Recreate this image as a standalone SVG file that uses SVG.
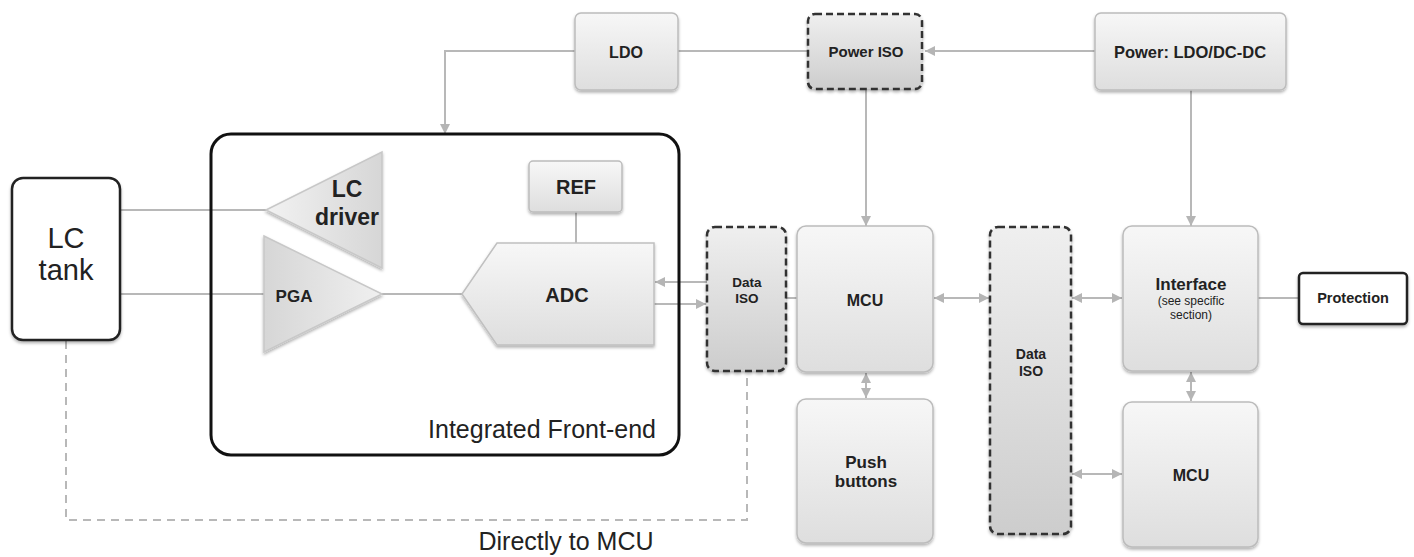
<svg xmlns="http://www.w3.org/2000/svg" width="1414" height="557" viewBox="0 0 1414 557">
<style>
.box{stroke:#bcbcbc;stroke-width:1.5;fill:url(#gBox);filter:url(#sh)}
.iso{stroke:#333;stroke-width:2.5;stroke-dasharray:7 4;fill:url(#gIso);filter:url(#sh)}
.wbox{stroke:#222;stroke-width:2.5;fill:#fff;filter:url(#sh)}
.con{stroke:#b8b8b8;stroke-width:2;fill:none}
.dash{stroke:#b8b8b8;stroke-width:2;fill:none;stroke-dasharray:8 6}
.t{font-family:"Liberation Sans",Arial,sans-serif;font-weight:bold;fill:#222;text-anchor:middle}
.r{font-family:"Liberation Sans",Arial,sans-serif;fill:#222;text-anchor:middle}
</style>
<defs>
<linearGradient id="gBox" x1="0" y1="0" x2="0" y2="1"><stop offset="0" stop-color="#f7f7f7"/><stop offset="1" stop-color="#dedede"/></linearGradient>
<linearGradient id="gIso" x1="0" y1="0" x2="0" y2="1"><stop offset="0" stop-color="#efefef"/><stop offset="1" stop-color="#cdcdcd"/></linearGradient>
<linearGradient id="gTriL" x1="0" y1="0" x2="1" y2="0"><stop offset="0" stop-color="#f2f2f2"/><stop offset="1" stop-color="#d6d6d6"/></linearGradient>
<linearGradient id="gTriR" x1="0" y1="0" x2="1" y2="0"><stop offset="0" stop-color="#d6d6d6"/><stop offset="1" stop-color="#f0f0f0"/></linearGradient>
<filter id="sh" x="-10%" y="-10%" width="120%" height="130%"><feDropShadow dx="0" dy="2" stdDeviation="1.5" flood-color="#000" flood-opacity="0.3"/></filter>
<marker id="ah" viewBox="0 0 10 10" refX="10" refY="5" markerWidth="10" markerHeight="10" markerUnits="userSpaceOnUse" orient="auto-start-reverse"><path d="M0,0 L10,5 L0,10 Z" fill="#b5b5b5"/></marker>
</defs>

<g id="connectors">
<polyline class="con" points="575,51 445,51 445,134" marker-end="url(#ah)"/>
<line class="con" x1="678" y1="51" x2="807" y2="51"/>
<line class="con" x1="1095" y1="51" x2="925" y2="51" marker-end="url(#ah)"/>
<line class="con" x1="866" y1="90" x2="866" y2="226" marker-end="url(#ah)"/>
<line class="con" x1="1191" y1="90" x2="1191" y2="226" marker-end="url(#ah)"/>
<line class="con" x1="120" y1="210" x2="266" y2="210"/>
<line class="con" x1="120" y1="294" x2="264" y2="294"/>
<line class="con" x1="382" y1="294" x2="462" y2="294"/>
<line class="con" x1="576" y1="212" x2="576" y2="243"/>
<line class="con" x1="707" y1="282" x2="655" y2="282" marker-end="url(#ah)"/>
<line class="con" x1="654" y1="304" x2="706" y2="304" marker-end="url(#ah)"/>
<line class="con" x1="786" y1="298" x2="797" y2="298"/>
<line class="con" x1="866" y1="373" x2="866" y2="398" marker-start="url(#ah)" marker-end="url(#ah)"/>
<line class="con" x1="934" y1="298" x2="989" y2="298" marker-start="url(#ah)" marker-end="url(#ah)"/>
<line class="con" x1="1072" y1="298" x2="1122" y2="298" marker-start="url(#ah)" marker-end="url(#ah)"/>
<line class="con" x1="1072" y1="474" x2="1122" y2="474" marker-start="url(#ah)" marker-end="url(#ah)"/>
<line class="con" x1="1191" y1="372" x2="1191" y2="401" marker-start="url(#ah)" marker-end="url(#ah)"/>
<line class="con" x1="1258" y1="298" x2="1299" y2="298"/>
<polyline class="dash" points="66,341 66,520 747,520 747,372"/>
</g>

<g id="lc-tank"><rect class="wbox" x="12" y="178" width="108" height="162" rx="11"/>
<text class="r" x="66" y="248" font-size="29">LC</text><text class="r" x="66" y="280" font-size="29">tank</text></g>

<g id="front-end"><rect x="211" y="134" width="468" height="321" rx="20" fill="none" stroke="#111" stroke-width="3"/>
<text class="r" x="542" y="438" font-size="25">Integrated Front-end</text></g>

<g id="lc-driver"><polygon points="266,210 382,152 382,268" fill="url(#gTriL)" stroke="#c8c8c8" stroke-width="1.5" filter="url(#sh)"/>
<text class="t" x="347" y="197" font-size="23">LC</text><text class="t" x="347" y="225" font-size="23">driver</text></g>

<g id="pga"><polygon points="264,236 382,294 264,352" fill="url(#gTriR)" stroke="#c8c8c8" stroke-width="1.5" filter="url(#sh)"/>
<text class="t" x="294" y="302" font-size="17">PGA</text></g>

<g id="ref"><rect class="box" x="529" y="161" width="93" height="51" rx="4"/><text class="t" x="576" y="194" font-size="20">REF</text></g>

<g id="adc"><polygon points="497,243 654,243 654,345 497,345 462,294" fill="url(#gBox)" stroke="#c0c0c0" stroke-width="1.5" filter="url(#sh)"/>
<text class="t" x="567" y="302" font-size="20">ADC</text></g>

<g id="ldo"><rect class="box" x="575" y="13" width="103" height="77" rx="6"/><text class="t" x="626" y="58" font-size="16">LDO</text></g>

<g id="power-iso"><rect class="iso" x="808" y="14" width="114" height="75" rx="7"/><text class="t" x="866" y="57" font-size="15">Power ISO</text></g>

<g id="power"><rect class="box" x="1095" y="13" width="191" height="77" rx="6"/><text class="t" x="1190" y="58" font-size="16.5">Power: LDO/DC-DC</text></g>

<g id="data-iso-1"><rect class="iso" x="707" y="227" width="79" height="144" rx="8"/>
<text class="t" x="747" y="287" font-size="13.5">Data</text><text class="t" x="747" y="303" font-size="13.5">ISO</text></g>

<g id="mcu-1"><rect class="box" x="797" y="226" width="136" height="146" rx="9"/><text class="t" x="865" y="306" font-size="16">MCU</text></g>

<g id="push"><rect class="box" x="797" y="399" width="136" height="144" rx="9"/>
<text class="t" x="866" y="468" font-size="17">Push</text><text class="t" x="866" y="487" font-size="17">buttons</text></g>

<g id="data-iso-2"><rect class="iso" x="990" y="227" width="81" height="307" rx="8"/>
<text class="t" x="1031" y="359" font-size="14">Data</text><text class="t" x="1031" y="376" font-size="14">ISO</text></g>

<g id="interface"><rect class="box" x="1123" y="226" width="135" height="145" rx="9"/>
<text class="t" x="1191" y="290" font-size="17">Interface</text>
<text class="r" x="1191" y="305" font-size="12" fill="#555">(see specific</text><text class="r" x="1191" y="319" font-size="12" fill="#555">section)</text></g>

<g id="mcu-2"><rect class="box" x="1123" y="402" width="135" height="145" rx="9"/><text class="t" x="1191" y="481" font-size="16">MCU</text></g>

<g id="protection"><rect class="wbox" x="1299" y="273" width="108" height="51" rx="4"/><text class="t" x="1353" y="303" font-size="14.5">Protection</text></g>

<text class="r" x="566" y="550" font-size="25">Directly to MCU</text>
</svg>
